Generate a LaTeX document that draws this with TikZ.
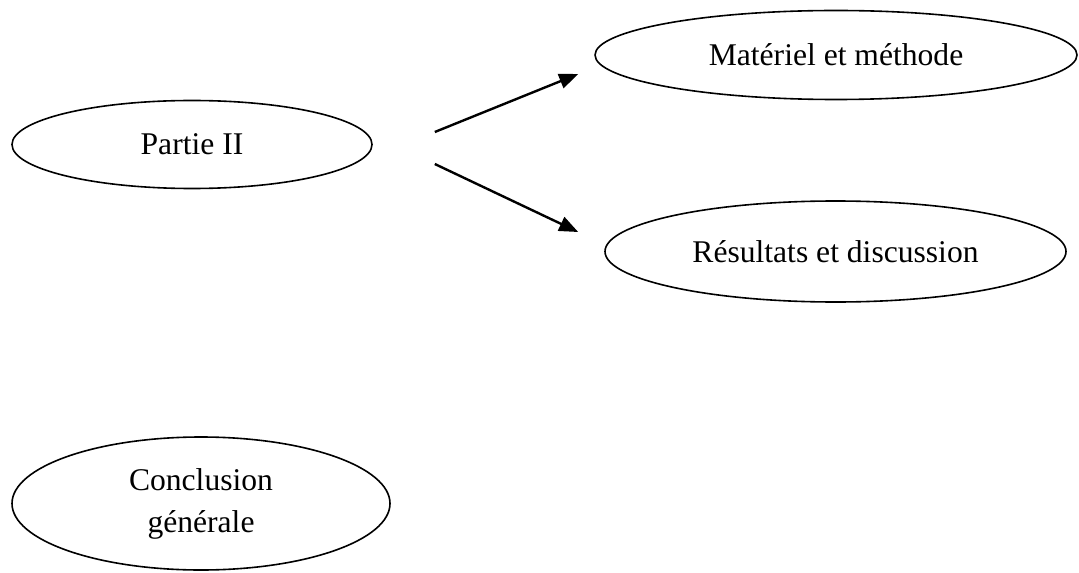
\documentclass[tikz,border=0pt]{standalone}
\usepackage{fontspec}
\setmainfont{Liberation Serif}
\usepackage{xcolor}
\usepackage{tikz}
\usetikzlibrary{arrows.meta,shapes.geometric}
\definecolor{plInk}{HTML}{000000}
\definecolor{plPaper}{HTML}{FFFFFF}
\tikzset{
  pl diagram/.style={x=0.5pt, y=-0.5pt, text=plInk,
    font=\fontsize{15.8pt}{21pt}\selectfont, line join=round},
  pl oval/.style={ellipse, draw=plInk, fill=plPaper, line width=0.8pt,
    inner sep=0pt, align=center},
  pl arrow/.style={-{Triangle[length=9.5pt,width=7.5pt]}, draw=plInk,
    line width=1.2pt}
}

\begin{document}
\begin{tikzpicture}[pl diagram]
\useasboundingbox (0,0) rectangle (1079,572);
\node[pl oval, minimum width=180pt, minimum height=44pt] (partie) at (192,144.5) {Partie II};
\node[pl oval, minimum width=241pt, minimum height=44.5pt] (materiel) at (836,55) {Matériel et méthode};
\node[pl oval, minimum width=230.5pt, minimum height=50.5pt] (resultats) at (835.5,251.5) {Résultats et discussion};
\node[pl oval, minimum width=189pt, minimum height=66.5pt] (conclusion) at (201,503.5) {Conclusion\\générale};
% free ends of the two arrows, kept near their ovals
\coordinate (fork up) at ([shift={(62,-12.5)}]partie.east);
\coordinate (fork down) at ([shift={(62,19.5)}]partie.east);
\coordinate (tip up) at ([shift={(-16,19)}]materiel.west);
\coordinate (tip down) at ([shift={(-26,-19.5)}]resultats.west);
\draw[pl arrow] (fork up) -- (tip up);
\draw[pl arrow] (fork down) -- (tip down);
\end{tikzpicture}
\end{document}
